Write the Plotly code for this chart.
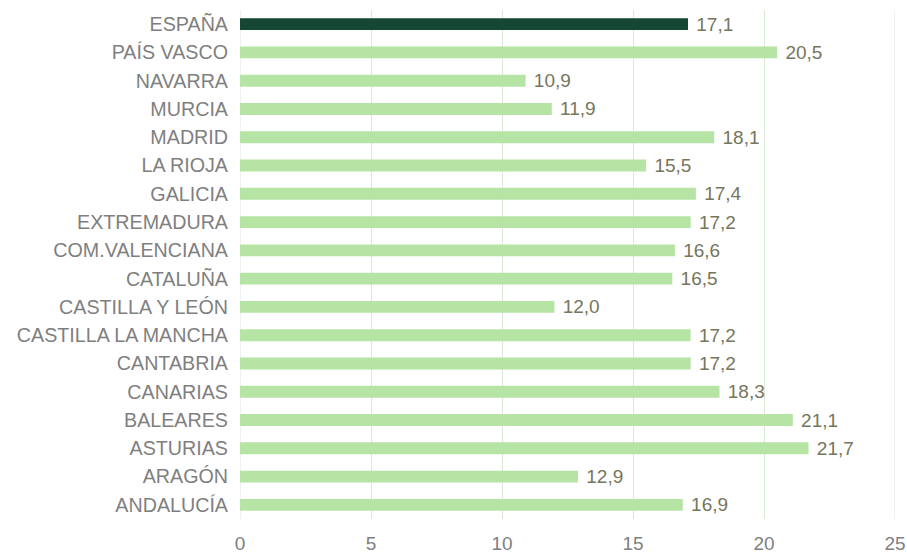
import plotly.graph_objects as go

categories = ["ANDALUCÍA", "ARAGÓN", "ASTURIAS", "BALEARES", "CANARIAS", "CANTABRIA",
              "CASTILLA LA MANCHA", "CASTILLA Y LEÓN", "CATALUÑA", "COM.VALENCIANA",
              "EXTREMADURA", "GALICIA", "LA RIOJA", "MADRID", "MURCIA", "NAVARRA",
              "PAÍS VASCO", "ESPAÑA"]
values = [16.9, 12.9, 21.7, 21.1, 18.3, 17.2, 17.2, 12.0, 16.5, 16.6,
          17.2, 17.4, 15.5, 18.1, 11.9, 10.9, 20.5, 17.1]
x_ticks = [0, 5, 10, 15, 20, 25]

colors = ["#154734" if c == "ESPAÑA" else "#b5e4a5" for c in categories]
labels = [f"{v:.1f}".replace(".", ",") for v in values]

FONT = "Liberation Sans"
GRID = "#dce8d7"

fig = go.Figure(go.Bar(
    y=categories, x=values, orientation="h",
    marker=dict(color=colors, line=dict(width=0)),
    width=0.42,
    text=labels, texttemplate=" %{text}", textposition="outside", cliponaxis=False,
    constraintext="none", hoverinfo="skip",
    textfont=dict(family=FONT, size=19, color="#76765c"),
))

fig.update_layout(
    width=907, height=554,
    margin=dict(l=240, r=12, t=10, b=35),
    paper_bgcolor="white", plot_bgcolor="white",
    showlegend=False,
    font=dict(family=FONT, size=19, color="#7f7f7f"),
    xaxis=dict(range=[0, 25], tickvals=x_ticks, showgrid=True, automargin=False,
               gridcolor=GRID, gridwidth=1, zeroline=False,
               showline=False, ticks="", ticklabelstandoff=11,
               ticklabeloverflow="allow",
               tickfont=dict(family=FONT, size=19, color="#7f7f7f")),
    yaxis=dict(categoryorder="array", categoryarray=categories, automargin=False,
               showgrid=False, showline=False, ticks="", ticklabelstandoff=11,
               tickfont=dict(family=FONT, size=19.7, color="#7f7f7f")),
)

# edge gridlines (at range ends) drawn explicitly
for xv in (x_ticks[0], x_ticks[-1]):
    fig.add_shape(type="line", xref="x", yref="paper", x0=xv, x1=xv, y0=0, y1=1,
                  line=dict(color=GRID, width=1), layer="below")

# remove the default 8px page margin so the figure fills the 907x554 window
fig.write_html("out.html", config={"displayModeBar": False},
               post_script="document.body.style.margin='0';")
